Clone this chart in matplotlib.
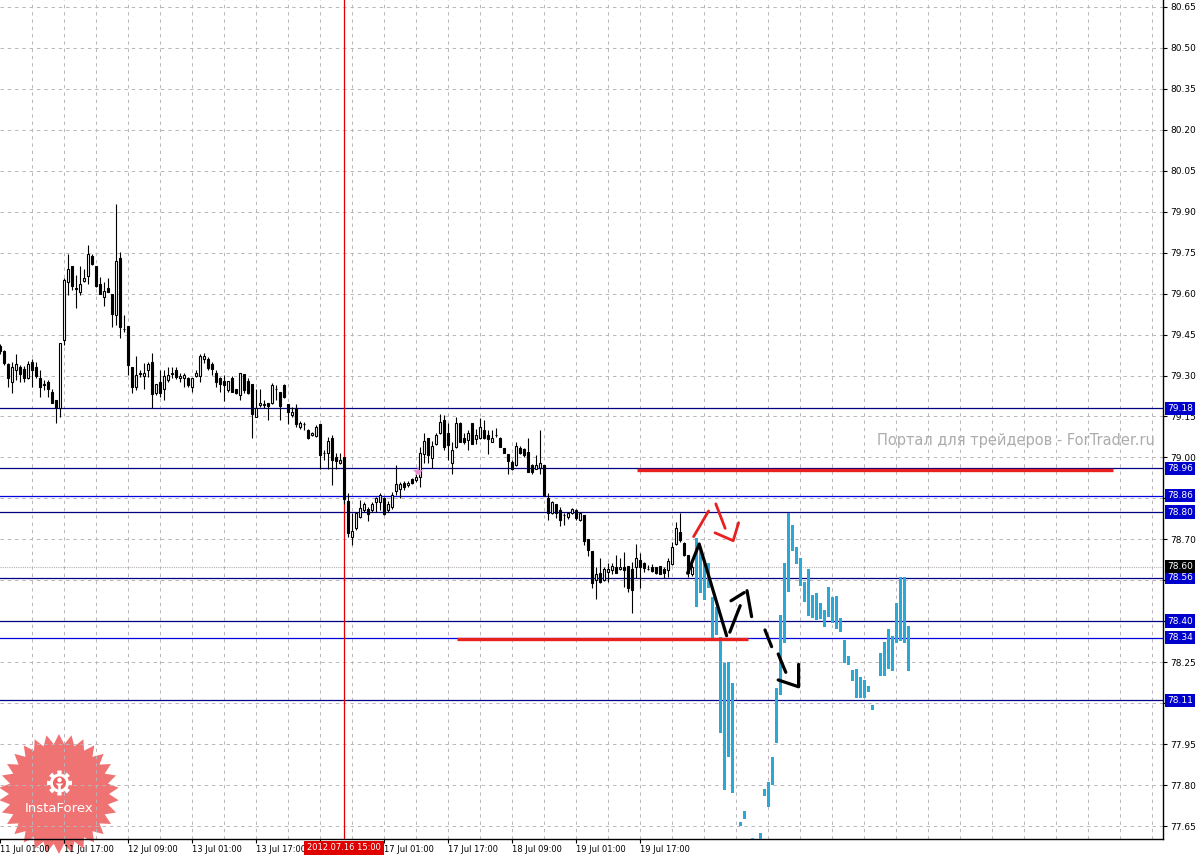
import numpy as np
import matplotlib
matplotlib.use('Agg')
import matplotlib.pyplot as plt
from matplotlib import transforms
from matplotlib.patches import Polygon

# H1 candles, bar 0 = 11 Jul 01:00
opens = [79.410, 79.390, 79.341, 79.277, 79.320, 79.330, 79.323, 79.290, 79.348, 79.332,
         79.290, 79.269, 79.277, 79.241, 79.210, 79.180, 79.430, 79.641, 79.701, 79.620,
         79.607, 79.647, 79.666, 79.738, 79.701, 79.637, 79.589, 79.619, 79.597, 79.521,
         79.731, 79.471, 79.481, 79.330, 79.259, 79.308, 79.299, 79.320, 79.349, 79.235,
         79.277, 79.249, 79.284, 79.306, 79.320, 79.290, 79.290, 79.290, 79.259, 79.299,
         79.298, 79.359, 79.359, 79.342, 79.308, 79.290, 79.281, 79.247, 79.292, 79.251,
         79.229, 79.306, 79.280, 79.269, 79.149, 79.192, 79.193, 79.199, 79.198, 79.249,
         79.238, 79.265, 79.194, 79.155, 79.182, 79.112, 79.122, 79.100, 79.082, 79.078,
         79.122, 79.017, 79.017, 79.070, 79.000, 78.978, 79.000, 78.840, 78.709, 78.740,
         78.783, 78.807, 78.811, 78.807, 78.838, 78.838, 78.852, 78.807, 78.817, 78.878,
         78.883, 78.908, 78.899, 78.921, 78.917, 78.927, 79.011, 79.072, 78.999, 79.051,
         79.088, 79.139, 79.088, 78.978, 79.039, 79.128, 79.070, 79.063, 79.125, 79.066,
         79.070, 79.100, 79.082, 79.057, 79.082, 79.070, 79.033, 79.012, 78.984, 78.972,
         79.033, 79.030, 79.021, 78.972, 78.957, 78.960, 78.972, 78.850, 78.795, 78.831,
         78.807, 78.790, 78.781, 78.795, 78.808, 78.771, 78.790, 78.701, 78.657, 78.551,
         78.578, 78.551, 78.582, 78.588, 78.600, 78.591, 78.600, 78.602, 78.591, 78.597,
         78.624, 78.612, 78.592, 78.600, 78.600, 78.602, 78.591, 78.588, 78.610, 78.683,
         78.728, 78.688, 78.643, 78.573]
highs = [79.415, 79.393, 79.347, 79.351, 79.378, 79.338, 79.335, 79.353, 79.359, 79.351,
         79.320, 79.284, 79.284, 79.249, 79.210, 79.418, 79.656, 79.747, 79.701, 79.668,
         79.701, 79.690, 79.778, 79.747, 79.701, 79.662, 79.641, 79.658, 79.597, 79.928,
         79.751, 79.521, 79.481, 79.330, 79.371, 79.320, 79.347, 79.351, 79.381, 79.269,
         79.320, 79.320, 79.332, 79.332, 79.332, 79.308, 79.308, 79.296, 79.292, 79.320,
         79.379, 79.381, 79.369, 79.351, 79.320, 79.296, 79.302, 79.280, 79.299, 79.251,
         79.308, 79.306, 79.290, 79.269, 79.249, 79.249, 79.210, 79.199, 79.271, 79.265,
         79.238, 79.269, 79.194, 79.186, 79.194, 79.134, 79.131, 79.103, 79.095, 79.118,
         79.122, 79.027, 79.076, 79.082, 79.015, 79.017, 79.000, 78.868, 78.795, 78.801,
         78.844, 78.835, 78.819, 78.838, 78.856, 78.868, 78.856, 78.840, 78.872, 78.972,
         78.911, 78.912, 78.912, 78.925, 78.954, 79.039, 79.088, 79.072, 79.060, 79.088,
         79.158, 79.155, 79.125, 79.057, 79.149, 79.131, 79.088, 79.100, 79.125, 79.103,
         79.143, 79.137, 79.100, 79.100, 79.109, 79.076, 79.033, 79.012, 78.990, 79.057,
         79.043, 79.035, 79.073, 78.975, 79.009, 79.100, 78.972, 78.868, 78.840, 78.831,
         78.817, 78.795, 78.801, 78.815, 78.812, 78.802, 78.790, 78.701, 78.657, 78.600,
         78.630, 78.600, 78.612, 78.612, 78.643, 78.630, 78.655, 78.602, 78.618, 78.683,
         78.649, 78.618, 78.606, 78.610, 78.600, 78.602, 78.600, 78.630, 78.691, 78.765,
         78.795, 78.692, 78.643, 78.610]
lows = [79.380, 79.338, 79.259, 79.237, 79.284, 79.277, 79.276, 79.286, 79.259, 79.290,
        79.222, 79.247, 79.222, 79.198, 79.127, 79.149, 79.412, 79.595, 79.615, 79.548,
        79.595, 79.644, 79.634, 79.705, 79.625, 79.597, 79.556, 79.607, 79.479, 79.485,
        79.438, 79.460, 79.302, 79.237, 79.247, 79.296, 79.249, 79.296, 79.180, 79.227,
        79.222, 79.210, 79.277, 79.290, 79.286, 79.277, 79.259, 79.259, 79.238, 79.296,
        79.277, 79.345, 79.320, 79.302, 79.259, 79.241, 79.208, 79.241, 79.238, 79.231,
        79.210, 79.235, 79.231, 79.070, 79.149, 79.186, 79.180, 79.139, 79.196, 79.210,
        79.139, 79.216, 79.121, 79.149, 79.113, 79.106, 79.100, 79.067, 79.078, 79.076,
        78.957, 78.990, 78.957, 78.899, 78.957, 78.976, 78.831, 78.709, 78.679, 78.734,
        78.777, 78.800, 78.768, 78.800, 78.801, 78.807, 78.789, 78.800, 78.810, 78.862,
        78.850, 78.880, 78.893, 78.903, 78.911, 78.890, 78.978, 78.978, 78.960, 79.045,
        79.085, 79.027, 78.990, 78.941, 79.033, 79.055, 79.051, 79.027, 79.049, 79.051,
        79.066, 79.067, 79.011, 79.055, 79.076, 79.037, 79.017, 78.941, 78.955, 78.969,
        79.012, 79.000, 78.947, 78.940, 78.956, 78.941, 78.858, 78.770, 78.793, 78.780,
        78.748, 78.752, 78.775, 78.792, 78.771, 78.768, 78.680, 78.640, 78.520, 78.480,
        78.539, 78.549, 78.545, 78.573, 78.575, 78.588, 78.527, 78.508, 78.431, 78.557,
        78.521, 78.579, 78.588, 78.582, 78.573, 78.572, 78.560, 78.561, 78.606, 78.679,
        78.692, 78.640, 78.563, 78.565]
closes = [79.390, 79.347, 79.290, 79.332, 79.341, 79.306, 79.292, 79.341, 79.320, 79.299,
          79.259, 79.267, 79.249, 79.198, 79.180, 79.418, 79.650, 79.690, 79.629, 79.618,
          79.637, 79.659, 79.747, 79.707, 79.629, 79.597, 79.609, 79.607, 79.526, 79.719,
          79.479, 79.470, 79.338, 79.259, 79.302, 79.307, 79.308, 79.342, 79.231, 79.269,
          79.235, 79.299, 79.302, 79.308, 79.296, 79.299, 79.302, 79.265, 79.292, 79.308,
          79.371, 79.371, 79.329, 79.324, 79.277, 79.269, 79.265, 79.280, 79.241, 79.235,
          79.308, 79.247, 79.237, 79.158, 79.182, 79.199, 79.192, 79.188, 79.265, 79.249,
          79.188, 79.222, 79.168, 79.168, 79.121, 79.125, 79.121, 79.070, 79.090, 79.110,
          79.009, 79.016, 79.061, 78.990, 78.988, 78.990, 78.849, 78.722, 78.730, 78.795,
          78.813, 78.828, 78.792, 78.831, 78.850, 78.864, 78.792, 78.831, 78.864, 78.901,
          78.901, 78.890, 78.908, 78.907, 78.929, 79.018, 79.060, 79.009, 79.041, 79.082,
          79.131, 79.039, 79.045, 79.029, 79.125, 79.057, 79.057, 79.088, 79.051, 79.084,
          79.112, 79.070, 79.067, 79.070, 79.081, 79.039, 79.018, 78.988, 78.957, 79.041,
          79.015, 79.009, 78.947, 78.945, 78.972, 78.980, 78.860, 78.795, 78.838, 78.795,
          78.770, 78.788, 78.795, 78.810, 78.777, 78.798, 78.695, 78.661, 78.541, 78.573,
          78.545, 78.591, 78.591, 78.602, 78.578, 78.600, 78.588, 78.521, 78.514, 78.630,
          78.600, 78.594, 78.591, 78.585, 78.575, 78.573, 78.575, 78.622, 78.671, 78.740,
          78.698, 78.643, 78.576, 78.600]

# cyan projection bars (range only), starting at bar 174
proj_start = 174
proj_hi = [78.704, 78.673, 78.612, 78.612, 78.490, 78.453, 78.343, 78.246, 78.252, 78.173,
           np.nan, 77.666, 77.706, np.nan, 77.607, np.nan, 77.623, 77.784, 77.812, 77.904,
           78.154, 78.423, 78.612, 78.798, 78.753, 78.671, 78.630, 78.545, 78.591, 78.496,
           78.505, 78.466, 78.441, 78.524, 78.490, 78.492, 78.413, 78.331, 78.273, 78.221,
           78.224, 78.195, 78.185, 78.163, 78.093, np.nan, 78.285, 78.325, 78.370, 78.346,
           78.466, 78.561, 78.561, 78.383]
proj_lo = [78.451, 78.502, 78.478, 78.521, 78.329, 78.350, 77.989, 77.782, 77.904, 77.772,
           np.nan, 77.650, 77.674, np.nan, 77.580, np.nan, 77.580, 77.760, 77.721, 77.800,
           77.953, 78.130, 78.322, 78.508, 78.659, 78.610, 78.529, 78.472, 78.419, 78.411,
           78.405, 78.407, 78.380, 78.417, 78.392, 78.370, 78.362, 78.248, 78.240, 78.181,
           78.120, 78.120, 78.120, 78.142, 78.075, np.nan, 78.200, 78.200, 78.225, 78.219,
           78.322, 78.329, 78.322, 78.219]

dark_levels = [79.18, 78.96, 78.80, 78.56, 78.40, 78.11]
blue_levels = [78.86, 78.34]
bid = 78.60

price_ticks = [77.65, 77.80, 77.95, 78.10, 78.25, 78.40, 78.55, 78.70, 78.85, 79.00, 79.15,
               79.30, 79.45, 79.60, 79.75, 79.90, 80.05, 80.20, 80.35, 80.50, 80.65]
hidden_price_ticks = [78.10, 78.40]   # fully covered by the level boxes
time_ticks = [0, 16, 32, 48, 64, 80, 96, 112, 128, 144, 160]
time_labels = ['11 Jul 01:00', '11 Jul 17:00', '12 Jul 09:00', '13 Jul 01:00', '13 Jul 17:00',
               '', '17 Jul 01:00', '17 Jul 17:00', '18 Jul 09:00', '19 Jul 01:00',
               '19 Jul 17:00']
cursor_bar = 86
cursor_label = '2012.07.16 15:00'

# red support/resistance segments: (price, bar from, bar to)
red_segments = [(78.955, 159.2, 278.2), (78.335, 114.2, 186.9)]

# hand drawn pattern strokes (bar, price)
black_strokes = [
    [(171.85, 78.576), (174.75, 78.683), (181.6, 78.347)],
    [(182.4, 78.360), (185.0, 78.457)],
    [(182.7, 78.475), (186.0, 78.505)],
    [(186.7, 78.512), (187.85, 78.417)],
    [(191.2, 78.368), (192.85, 78.307)],
    [(194.5, 78.280), (196.4, 78.213)],
    [(194.5, 78.185), (199.6, 78.160), (199.6, 78.242)],
]
red_strokes = [
    [(173.35, 78.710), (177.1, 78.804)],
    [(178.9, 78.830), (181.25, 78.740)],
    [(178.7, 78.724), (183.25, 78.695), (184.6, 78.761)],
]

W, H = 1202, 857
fig = plt.figure(figsize=(W / 100, H / 100), dpi=100, facecolor='white')
ax = fig.add_axes([0, 18 / H, 1163 / W, 839 / H])
ax.set_facecolor('none')

o = np.array(opens); hi = np.array(highs); lo = np.array(lows); c = np.array(closes)
idx = np.arange(len(o))
up = c >= o
body_lo = np.minimum(o, c)
body_h = np.maximum(np.abs(c - o), 0.002)

ax.vlines(idx, lo, hi, color='black', lw=0.8, zorder=4)
ax.bar(idx[up], body_h[up], bottom=body_lo[up], width=0.62, facecolor='white',
       edgecolor='black', lw=0.8, zorder=5)
ax.bar(idx[~up], body_h[~up], bottom=body_lo[~up], width=0.62, facecolor='black',
       edgecolor='black', lw=0.8, zorder=5)

ph = np.array(proj_hi); pl = np.array(proj_lo)
pidx = proj_start + np.arange(len(ph))
ok = ~np.isnan(ph)
ax.bar(pidx[ok], ph[ok] - pl[ok], bottom=pl[ok], width=0.78, color='#2aa8d6', lw=0, zorder=4)

for lv in dark_levels:
    ax.axhline(lv, color='#000080', lw=0.9, zorder=3)
for lv in blue_levels:
    ax.axhline(lv, color='#0000dd', lw=0.9, zorder=3)
ax.axhline(bid, color='#b8b0b8', lw=0.8, ls=(0, (1, 1)), zorder=3)
ax.axvline(cursor_bar, color='#e00000', lw=0.9, zorder=3)

for p, x0, x1 in red_segments:
    ax.hlines(p, x0, x1, color='#e8201e', lw=2.4, zorder=6)

for s in black_strokes:
    xs, ys = zip(*s)
    ax.plot(xs, ys, color='black', lw=2.3, solid_capstyle='round', zorder=7)
for s in red_strokes:
    xs, ys = zip(*s)
    ax.plot(xs, ys, color='#e82020', lw=2.0, solid_capstyle='round', zorder=7)

ax.plot([104.35], [78.948], marker='*', color='#e890d0', ms=8, mew=0, zorder=8)

ax.set_xlim(-0.05, 290.7)
ax.set_ylim(77.6024, 80.6756)

# axes, ticks, grid
for side in ('left', 'top'):
    ax.spines[side].set_visible(False)
for side in ('right', 'bottom'):
    ax.spines[side].set_color('black')
    ax.spines[side].set_linewidth(1.0)

ax.yaxis.tick_right()
ax.set_yticks(price_ticks)
ax.set_yticklabels(['' if p in hidden_price_ticks else '%.2f' % p for p in price_ticks])
ax.tick_params(axis='y', length=3, width=0.8, pad=2, labelsize=6.5, direction='out')

ax.set_xticks(time_ticks)
ax.set_xticklabels(time_labels)
for lab in ax.get_xticklabels():
    lab.set_ha('left')
ax.set_xticks(list(range(8, 291, 8)), minor=True)
ax.xaxis.remove_overlapping_locs = False
ax.tick_params(axis='x', which='major', length=3, width=0.8, pad=1.5, labelsize=6)
ax.tick_params(axis='x', which='minor', length=0)

grid_kw = dict(color='#bcb4bc', lw=0.7, ls=(0, (3.5, 4)))
ax.grid(True, which='minor', axis='x', **grid_kw)
ax.grid(True, which='major', axis='y', **grid_kw)
ax.grid(False, which='major', axis='x')
ax.set_axisbelow(True)

# price labels of the level lines
tr = transforms.blended_transform_factory(ax.transAxes, ax.transData)
for lv in dark_levels + blue_levels:
    ax.text(1 + 4 / 1163, lv, '%.2f' % lv, transform=tr, ha='left', va='center',
            fontsize=6.5, color='white', clip_on=False, zorder=10,
            bbox=dict(boxstyle='square,pad=0.25', fc='#0000cc', ec='none'))
ax.text(1 + 4 / 1163, bid, '%.2f' % bid, transform=tr, ha='left', va='center',
        fontsize=6.5, color='white', clip_on=False, zorder=10,
        bbox=dict(boxstyle='square,pad=0.25', fc='black', ec='none'))

trx = transforms.blended_transform_factory(ax.transData, ax.transAxes)
ax.text(cursor_bar, -0.0107, cursor_label, transform=trx, ha='center', va='center',
        fontsize=6, color='white', clip_on=False, zorder=10,
        bbox=dict(boxstyle='square,pad=0.35', fc='#e00000', ec='none'))

ax.text(1155 / 1163, 1 - 440 / 839, 'Портал для трейдеров - ForTrader.ru',
        transform=ax.transAxes, ha='right', va='center', fontsize=10.5, color='#acacac')

# InstaForex badge (figure pixels)
def px(pts):
    pts = np.asarray(pts, dtype=float)
    return np.column_stack([pts[:, 0] / W, 1 - pts[:, 1] / H])

cx, cy = 59, 794
ang = np.linspace(0, 2 * np.pi, 60, endpoint=False) - np.pi / 2
rad = np.where(np.arange(60) % 2 == 0, 60, 50)
star = np.column_stack([cx + rad * np.cos(ang), cy + rad * np.sin(ang)])
fig.patches.append(Polygon(px(star), closed=True, transform=fig.transFigure,
                           fc='#ee6464', ec='none', alpha=0.9, zorder=-1))

gx, gy = 59.5, 783
t = np.linspace(0, 2 * np.pi, 400)
gr = np.where((t * 8 / (2 * np.pi) + 0.25) % 1 < 0.5, 12.5, 9.5)
gear = np.column_stack([gx + gr * np.cos(t), gy + gr * np.sin(t)])
fig.patches.append(Polygon(px(gear), closed=True, transform=fig.transFigure,
                           fc='white', ec='none', zorder=5))
inner = np.column_stack([gx + 6.5 * np.cos(t), gy + 6.5 * np.sin(t)])
fig.patches.append(Polygon(px(inner), closed=True, transform=fig.transFigure,
                           fc='#ee6464', ec='none', zorder=5.1))
head = np.column_stack([gx + 2.2 * np.cos(t), gy - 3 + 2.2 * np.sin(t)])
fig.patches.append(Polygon(px(head), closed=True, transform=fig.transFigure,
                           fc='white', ec='none', zorder=5.2))
body = [(gx - 4, gy + 0.5), (gx + 4, gy + 0.5), (gx + 1.3, gy + 3), (gx + 1.3, gy + 12),
        (gx - 1.3, gy + 12), (gx - 1.3, gy + 3)]
fig.patches.append(Polygon(px(body), closed=True, transform=fig.transFigure,
                           fc='white', ec='none', zorder=5.2))
fig.text(59 / W, 1 - 809 / H, 'InstaForex', ha='center', va='center', fontsize=9.5,
         color='white', zorder=6)

fig.savefig('out.png', dpi=100, facecolor='white')
